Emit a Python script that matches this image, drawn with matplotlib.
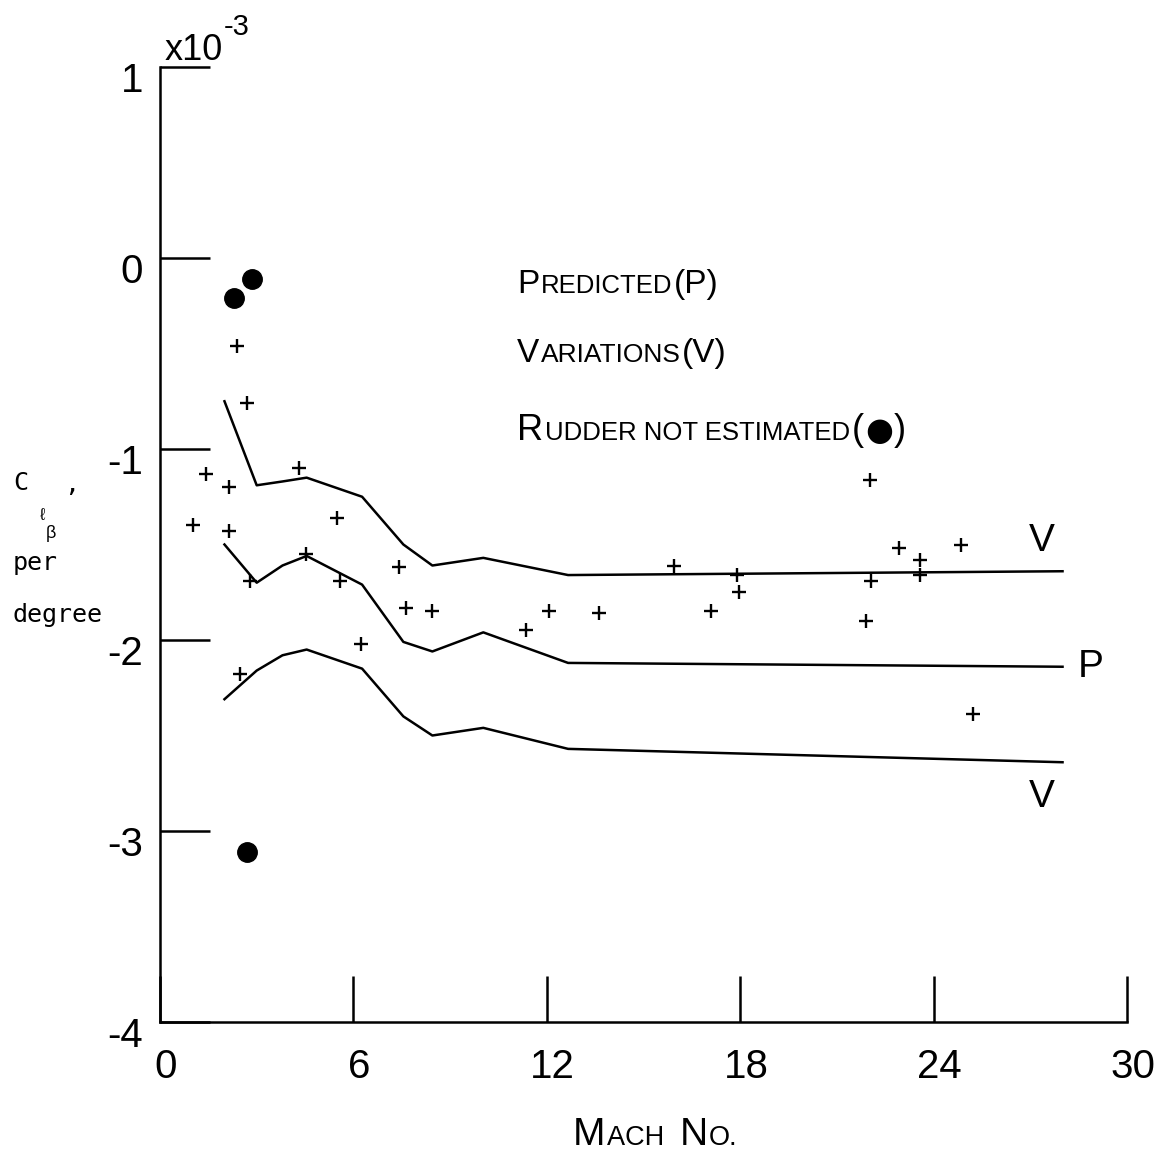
import numpy as np
import matplotlib.pyplot as plt
import matplotlib.transforms as mtransforms

#--------------------Data---------------------------------------------
mach_curve = [2.0, 3.0, 3.8, 4.55, 6.27, 7.55, 8.45, 10.03, 12.66, 28.0]
upper_v = [-0.75, -1.19, -1.17, -1.15, -1.25, -1.50, -1.61, -1.57, -1.66, -1.64]
predicted = [-1.50, -1.70, -1.61, -1.56, -1.71, -2.01, -2.06, -1.96, -2.12, -2.14]
lower_v = [-2.31, -2.16, -2.08, -2.05, -2.15, -2.40, -2.50, -2.46, -2.57, -2.64]

test_mach = [2.40, 2.69, 4.32, 1.42, 2.15, 1.01, 2.13, 5.48, 4.52, 2.79, 7.43, 5.58,
             7.62, 8.43, 6.23, 2.48, 11.36, 12.07, 13.62, 15.95, 17.10, 17.90, 17.96,
             22.03, 21.90, 22.06, 22.93, 23.58, 23.58, 24.85, 25.22]
test_clb = [-0.46, -0.76, -1.10, -1.13, -1.20, -1.40, -1.43, -1.36, -1.55, -1.69, -1.62, -1.69,
            -1.83, -1.85, -2.02, -2.18, -1.95, -1.85, -1.86, -1.61, -1.85, -1.66, -1.75,
            -1.16, -1.90, -1.69, -1.52, -1.58, -1.66, -1.50, -2.39]

no_rudder_mach = [2.86, 2.30, 2.69]
no_rudder_clb = [-0.11, -0.21, -3.11]

x_ticks = [0, 6, 12, 18, 24, 30]
y_ticks = [1, 0, -1, -2, -3, -4]
y_tick_labels = ['1', '0', '-1', '-2', '-3', '-4']

#--------------------Style--------------------------
W, H = 1154, 1153
FONT = ['Liberation Sans', 'DejaVu Sans']
MONO = 'DejaVu Sans Mono'
LW = 1.8

plt.rcParams['font.family'] = FONT
plt.rcParams['mathtext.default'] = 'regular'

fig = plt.figure(figsize=(W / 100, H / 100), dpi=100)
ax = fig.add_axes([160 / W, 131 / H, 967 / W, 955 / H])

ax.plot(mach_curve, upper_v, color='black', lw=LW)
ax.plot(mach_curve, predicted, color='black', lw=LW)
ax.plot(mach_curve, lower_v, color='black', lw=LW)
ax.plot(test_mach, test_clb, ls='none', marker='+', ms=10, mew=1.7, color='black')
ax.plot(no_rudder_mach, no_rudder_clb, ls='none', marker='o', ms=14, color='black')

ax.set_xlim(0, 30)
ax.set_ylim(-4, 1)
ax.spines['top'].set_visible(False)
ax.spines['right'].set_visible(False)
for sp in ['left', 'bottom']:
    ax.spines[sp].set_linewidth(LW)

ax.set_xticks(x_ticks)
ax.set_xticklabels([str(t) for t in x_ticks])
ax.set_yticks(y_ticks)
ax.set_yticklabels(y_tick_labels)
ax.tick_params(axis='x', direction='in', length=33, width=LW, pad=19, labelsize=29)
ax.tick_params(axis='y', direction='in', length=36, width=LW, pad=12, labelsize=29)

# labels sit a bit off their ticks in the original
dy = mtransforms.ScaledTranslation(0, -10 / 100, fig.dpi_scale_trans)
for lab in ax.get_yticklabels():
    lab.set_transform(lab.get_transform() + dy)
dx = mtransforms.ScaledTranslation(6 / 100, 0, fig.dpi_scale_trans)
for lab in ax.get_xticklabels():
    lab.set_transform(lab.get_transform() + dx)

# curve tags
ax.text(27.37, -1.48, 'V', fontsize=28, ha='center', va='center')
ax.text(28.86, -2.14, 'P', fontsize=28, ha='center', va='center')
ax.text(27.37, -2.82, 'V', fontsize=28, ha='center', va='center')


def fig_text(x, y, s, **kw):
    # x, y in pixels from the top-left corner, y is the baseline
    return fig.text(x / W, (H - y) / H, s, va='baseline', ha='left', **kw)


def small_caps(x, y, parts):
    # parts: (text, size) or (text, size, family), drawn one after another
    r = fig.canvas.get_renderer()
    for p in parts:
        s, size = p[0], p[1]
        fam = p[2] if len(p) > 2 else FONT
        t = fig_text(x, y, s, fontsize=size, family=fam)
        x += t.get_window_extent(r).width
        if s.endswith(' '):
            x += 0.28 * size * 100 / 72
        else:
            x += 1.5


small_caps(517, 293, [('P', 24), ('REDICTED', 18.5), ('(P)', 24)])
small_caps(517, 362, [('V', 24), ('ARIATIONS', 19), ('(V)', 24)])
small_caps(517, 440, [('R', 26), ('UDDER NOT ESTIMATED', 18.5), ('(', 26),
                      ('\u25cf', 23, 'DejaVu Sans'), (')', 26)])
small_caps(573, 1145, [('M', 28), ('ACH ', 19.5), ('N', 28), ('O.', 19.5)])

# exponent above the axis
fig_text(165, 60, 'x10', fontsize=26)
fig_text(224, 35, '-3', fontsize=21)

# y label
fig_text(13, 490, 'C', fontsize=18, family=MONO)
fig_text(40, 520, '\u2113', fontsize=12)
fig_text(46, 538, '\u03b2', fontsize=13)
fig_text(64, 492, ',', fontsize=18, family=MONO)
fig_text(13, 570, 'per', fontsize=18, family=MONO)
fig_text(13, 622, 'degree', fontsize=18, family=MONO)

fig.savefig('out.png', dpi=100)
